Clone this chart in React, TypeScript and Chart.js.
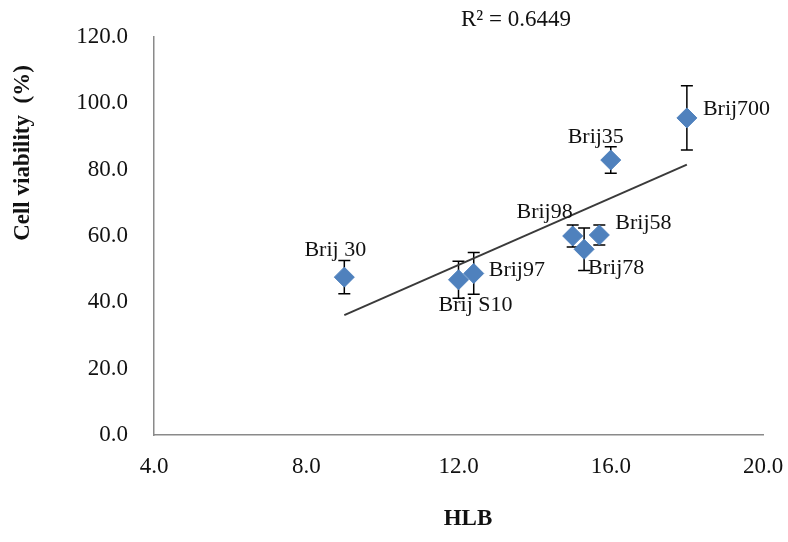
import { useEffect, useRef } from "react";
import { Chart, registerables } from "chart.js";

Chart.register(...registerables);

// ---- data ----
const surfactants = ["Brij 30", "Brij S10", "Brij97", "Brij98", "Brij78", "Brij58", "Brij35", "Brij700"];
const hlbValues = [9.0, 12.0, 12.4, 15.0, 15.3, 15.7, 16.0, 18.0];
const cellViability = [47.6, 46.8, 48.7, 60.0, 56.0, 60.3, 82.9, 95.6];
const viabilityError = [5.0, 5.6, 6.3, 3.3, 6.4, 3.0, 4.0, 9.7];
const xTickValues = [4, 8, 12, 16, 20];
const yTickValues = [0, 20, 40, 60, 80, 100, 120];
const xAxisTitle = "HLB";
const yAxisTitle = "Cell viability  (%)";
const r2Label = "R\u00B2 = 0.6449";

// label placement (styling only): [dx, dy, align]
const labelPlacement: [number, number, CanvasTextAlign][] = [
  [-9, -27, "center"],
  [17, 25, "center"],
  [15, -3, "left"],
  [0, -24, "right"],
  [4, 19, "left"],
  [16, -12, "left"],
  [-15, -23, "center"],
  [16, -9, "left"],
];

function linearFit(xs: number[], ys: number[]) {
  const n = xs.length;
  const mx = xs.reduce((a, b) => a + b, 0) / n;
  const my = ys.reduce((a, b) => a + b, 0) / n;
  let sxy = 0, sxx = 0;
  for (let i = 0; i < n; i++) {
    sxy += (xs[i] - mx) * (ys[i] - my);
    sxx += (xs[i] - mx) * (xs[i] - mx);
  }
  const slope = sxy / sxx;
  return { slope, intercept: my - slope * mx };
}

const SERIF = "'Liberation Serif', 'Times New Roman', serif";
const TEXT = "#111111";

const annotationsPlugin = {
  id: "annotations",
  beforeDatasetsDraw(chart: any) {
    const ctx = chart.ctx;
    const xs = chart.scales.x;
    const ys = chart.scales.y;
    ctx.save();
    ctx.strokeStyle = "#000000";
    ctx.lineWidth = 1.5;
    for (let i = 0; i < hlbValues.length; i++) {
      const px = xs.getPixelForValue(hlbValues[i]);
      const top = ys.getPixelForValue(cellViability[i] + viabilityError[i]);
      const bot = ys.getPixelForValue(cellViability[i] - viabilityError[i]);
      const cap = 6;
      ctx.beginPath();
      ctx.moveTo(px, top);
      ctx.lineTo(px, bot);
      ctx.moveTo(px - cap, top);
      ctx.lineTo(px + cap, top);
      ctx.moveTo(px - cap, bot);
      ctx.lineTo(px + cap, bot);
      ctx.stroke();
    }
    ctx.restore();
  },
  afterDatasetsDraw(chart: any) {
    const ctx = chart.ctx;
    const xs = chart.scales.x;
    const ys = chart.scales.y;
    ctx.save();
    ctx.fillStyle = TEXT;
    ctx.font = `22px ${SERIF}`;
    ctx.textBaseline = "middle";
    for (let i = 0; i < surfactants.length; i++) {
      const px = xs.getPixelForValue(hlbValues[i]);
      const py = ys.getPixelForValue(cellViability[i]);
      const [dx, dy, align] = labelPlacement[i];
      ctx.textAlign = align;
      ctx.fillText(surfactants[i], px + dx, py + dy);
    }
    // R² text
    ctx.textAlign = "center";
    ctx.font = `23px ${SERIF}`;
    ctx.fillText(r2Label, 516, 20);
    // axis titles
    ctx.font = `bold 23px ${SERIF}`;
    ctx.fillText(xAxisTitle, 468, 519);
    ctx.translate(23, 153);
    ctx.rotate(-Math.PI / 2);
    ctx.fillText(yAxisTitle, 0, 0);
    ctx.restore();
  },
};

export default function App() {
  const canvasRef = useRef<HTMLCanvasElement | null>(null);

  useEffect(() => {
    if (!canvasRef.current) return;
    const fit = linearFit(hlbValues, cellViability);
    const xMin = Math.min(...hlbValues);
    const xMax = Math.max(...hlbValues);
    const chart = new Chart(canvasRef.current, {
      type: "scatter",
      data: {
        datasets: [
          {
            label: "Cell viability",
            data: hlbValues.map((x, i) => ({ x, y: cellViability[i] })),
            pointStyle: "rectRot",
            pointRadius: 10,
            pointHoverRadius: 10,
            backgroundColor: "#4F81BD",
            borderColor: "#4F81BD",
            borderWidth: 1,
          },
          {
            type: "line",
            label: "Trend",
            data: [
              { x: xMin, y: fit.slope * xMin + fit.intercept },
              { x: xMax, y: fit.slope * xMax + fit.intercept },
            ],
            borderColor: "#3a3a3a",
            borderWidth: 2,
            pointRadius: 0,
            fill: false,
          } as any,
        ],
      },
      options: {
        animation: false,
        responsive: true,
        maintainAspectRatio: false,
        layout: { padding: { top: 37, right: 25, left: 0, bottom: 0 } },
        plugins: {
          legend: { display: false },
          tooltip: { enabled: false },
        },
        scales: {
          x: {
            type: "linear",
            min: xTickValues[0],
            max: xTickValues[xTickValues.length - 1],
            afterBuildTicks: (scale: any) => {
              scale.ticks = xTickValues.map((v) => ({ value: v }));
            },
            afterFit: (scale: any) => {
              scale.height = 107;
              scale.paddingLeft = 0;
              scale.paddingRight = 0;
            },
            grid: { display: false, drawTicks: false },
            border: { display: true, color: "#8a8a8a", width: 1.5 },
            ticks: {
              padding: 18,
              color: TEXT,
              font: { family: SERIF, size: 23 },
              callback: (v: any) => Number(v).toFixed(1),
            },
          },
          y: {
            type: "linear",
            min: yTickValues[0],
            max: yTickValues[yTickValues.length - 1],
            afterBuildTicks: (scale: any) => {
              scale.ticks = yTickValues.map((v) => ({ value: v }));
            },
            afterFit: (scale: any) => {
              scale.width = 154;
              scale.paddingTop = 0;
              scale.paddingBottom = 0;
            },
            grid: { display: false, drawTicks: false },
            border: { display: true, color: "#8a8a8a", width: 1.5 },
            ticks: {
              padding: 26,
              color: TEXT,
              font: { family: SERIF, size: 23 },
              callback: (v: any) => Number(v).toFixed(1),
            },
          },
        },
      },
      plugins: [annotationsPlugin],
    });
    return () => chart.destroy();
  }, []);

  return (
    <div style={{ position: "fixed", left: 0, top: 0, width: 788, height: 542, background: "#ffffff" }}>
      <canvas ref={canvasRef} />
    </div>
  );
}
